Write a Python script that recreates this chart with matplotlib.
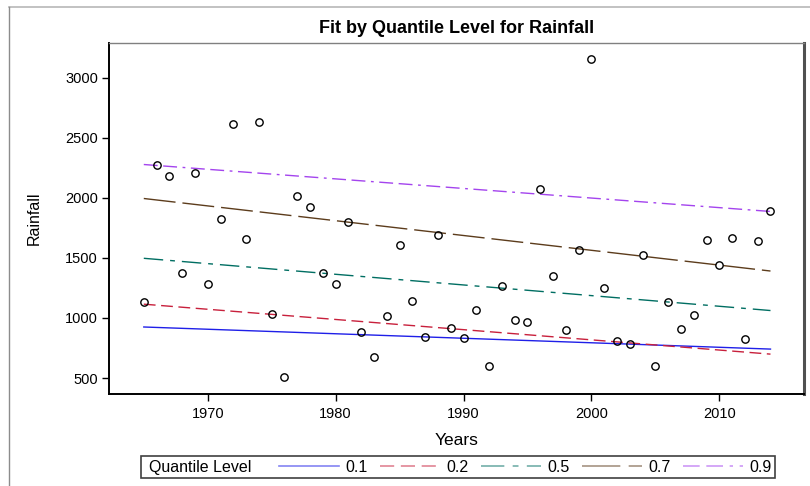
import matplotlib
matplotlib.use("Agg")
import matplotlib.pyplot as plt
from matplotlib.lines import Line2D
from matplotlib.patches import Rectangle

plt.rcParams['font.family'] = ['Liberation Sans', 'DejaVu Sans']

# annual rainfall, 1965-2014
years = list(range(1965, 2015))
rainfall = [1135, 2270, 2180, 1378, 2205, 1283, 1828, 2615, 1656, 2630,
            1035, 505, 2016, 1925, 1372, 1280, 1797, 885, 673, 1015,
            1605, 1145, 843, 1694, 913, 835, 1064, 603, 1263, 982,
            965, 2075, 1350, 901, 1568, 3155, 1253, 805, 785, 1528,
            603, 1135, 907, 1027, 1652, 1440, 1670, 822, 1645, 1888]

# quantile regression fits (value at first and last year)
quantiles = ['0.1', '0.2', '0.5', '0.7', '0.9']
fit_start = [925, 1115, 1497, 1995, 2278]
fit_end = [741, 699, 1062, 1391, 1887]
fit_years = [1965, 2014]

colors = ['#1f1fe8', '#c8203c', '#006e62', '#5c3c1c', '#a444ee']
dashes = [None, (8.5, 4), (14, 5, 3.5, 5), (23, 5), (10, 4, 10, 4, 2, 4)]

fig = plt.figure(figsize=(8.1, 4.86), dpi=100)
ax = fig.add_axes([109 / 810, 1 - 394 / 486, (804 - 109) / 810, (394 - 42.5) / 486])

handles = []
for q, y0, y1, c, d in zip(quantiles, fit_start, fit_end, colors, dashes):
    line, = ax.plot(fit_years, [y0, y1], color=c, lw=1.0, zorder=2)
    proxy = Line2D([0], [0], color=c, lw=1.2, alpha=0.55)
    if d is not None:
        line.set_dashes(d)
        proxy.set_dashes(d)
    handles.append(proxy)

ax.plot(years, rainfall, 'o', ms=5.3, mfc='none', mec='black', mew=1.0, zorder=3)

ax.set_xlim(1962.28, 2016.62)
ax.set_ylim(367, 3294)
ax.set_xticks([1970, 1980, 1990, 2000, 2010])
ax.set_yticks([500, 1000, 1500, 2000, 2500, 3000])
ax.tick_params(direction='out', length=5, width=1, labelsize=10.5, pad=3, colors='black')
ax.tick_params(axis='x', pad=4)

for side in ['left', 'bottom']:
    ax.spines[side].set_linewidth(1.4)
    ax.spines[side].set_color('black')
ax.spines['top'].set_color('#808080')
ax.spines['top'].set_linewidth(1.0)
ax.spines['right'].set_color('#505050')
ax.spines['right'].set_linewidth(2.2)

ax.set_title('Fit by Quantile Level for Rainfall', fontsize=13, fontweight='bold', pad=7)
ax.set_xlabel('Years', fontsize=12.5, labelpad=9)
ax.set_ylabel('Rainfall', fontsize=11.5)
ax.yaxis.set_label_coords(-0.097, 0.5)

# outer frame
fig.add_artist(Line2D([9 / 810, 1], [1 - 7 / 486, 1 - 7 / 486], color='#b8b8b8', lw=1.2))
fig.add_artist(Line2D([9 / 810, 9 / 810], [0, 1 - 7 / 486], color='#8c8c8c', lw=1.0))

# legend strip
fig.add_artist(Rectangle((141 / 810, 1 - 478 / 486), (775 - 141) / 810, 22 / 486,
                         fill=False, ec='#404040', lw=1.2))
fig.text(149 / 810, 1 - 467 / 486, 'Quantile Level', fontsize=11.5, va='center', ha='left')
fig.legend(handles, quantiles, loc='center left', bbox_to_anchor=(279 / 810, 1 - 467 / 486),
           ncol=5, frameon=False, fontsize=11.5, handlelength=3.75, handletextpad=0.4,
           columnspacing=0.78, borderpad=0, borderaxespad=0)

fig.savefig('out.png', dpi=100)
